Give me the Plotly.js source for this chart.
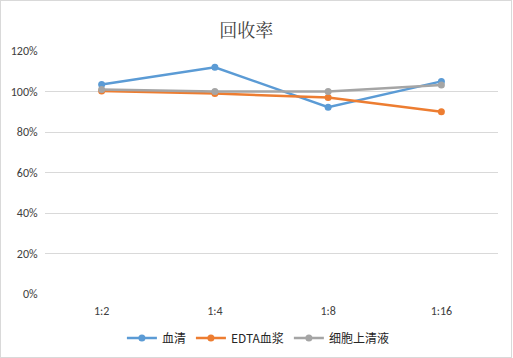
<!DOCTYPE html>
<html><head><meta charset="utf-8">
<script src="https://cdn.plot.ly/plotly-3.0.1.min.js"></script>
<style>
html,body{margin:0;padding:0;background:#fff;}
#wrap{position:relative;width:513px;height:358px;}
#chart{position:absolute;left:0;top:0;width:513px;height:358px;}
#border{position:absolute;left:0;top:0;width:510px;height:356px;border:1px solid #D9D9D9;pointer-events:none;}
</style></head>
<body>
<div id="wrap"><div id="chart"></div><div id="border"></div></div>
<script>
const categories = ['1:2', '1:4', '1:8', '1:16'];
const serum = [1.034, 1.12, 0.922, 1.05];
const edta = [1.002, 0.99, 0.97, 0.90];
const supernatant = [1.01, 1.0, 1.0, 1.032];
const seriesNames = ['血清', 'EDTA血浆', '细胞上清液'];
const colors = ['#5B9BD5', '#ED7D31', '#A5A5A5'];
const yTicks = [0, 0.2, 0.4, 0.6, 0.8, 1.0, 1.2];
const yTickLabels = ['0%', '20%', '40%', '60%', '80%', '100%', '120%'];

const font = "Calibri, 'Liberation Sans', 'Noto Sans CJK SC', sans-serif";
const data = [serum, edta, supernatant].map((v, i) => ({
  type: 'scatter', mode: 'lines+markers', x: categories, y: v, name: seriesNames[i],
  line: {color: colors[i], width: 2.5}, marker: {color: colors[i], size: 7}
}));

const layout = {
  width: 513, height: 358,
  margin: {l: 45, r: 15, t: 51, b: 64, autoexpand: false},
  paper_bgcolor: '#fff', plot_bgcolor: '#fff',
  title: {text: '回收率', x: 0.48, xanchor: 'center', y: 0.915, yanchor: 'middle',
    font: {family: "'Noto Serif CJK SC', 'Noto Sans CJK SC', serif", size: 18, color: '#404040'}},
  xaxis: {type: 'category', range: [-0.5, 3.5], showgrid: false, zeroline: false,
    showline: false, ticks: 'outside', ticklen: 6, tickcolor: 'rgba(0,0,0,0)',
    tickfont: {family: font, size: 12, color: '#404040'}, fixedrange: true},
  yaxis: {range: [0, 1.2], tickvals: yTicks, ticktext: yTickLabels, showgrid: true,
    gridcolor: '#D9D9D9', gridwidth: 1, zeroline: false, showline: false,
    ticks: 'outside', ticklen: 4, tickcolor: 'rgba(0,0,0,0)',
    tickfont: {family: font, size: 12, color: '#404040'}, fixedrange: true},
  showlegend: true,
  legend: {orientation: 'h', x: 0.47, xanchor: 'center', y: -0.181, yanchor: 'middle',
    font: {family: "'Noto Sans CJK SC', sans-serif", size: 12, color: '#262626'},
    itemwidth: 30, tracegroupgap: 0}
};
Plotly.newPlot('chart', data, layout, {displayModeBar: false, staticPlot: true});
</script>
</body></html>
